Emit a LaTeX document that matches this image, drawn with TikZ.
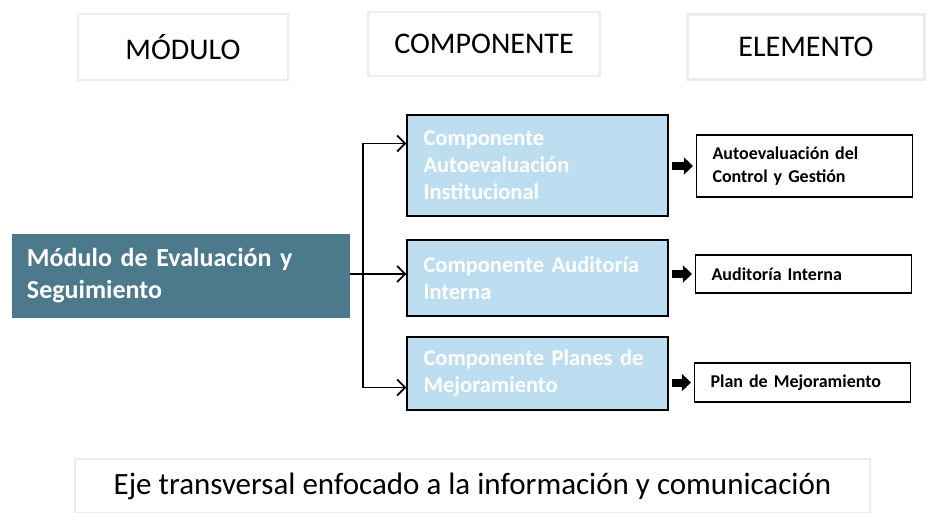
\documentclass[tikz,border=0pt]{standalone}
\usepackage{fontspec}
\setmainfont{Carlito}
\usepackage{xcolor}
\usepackage{tikz}
\usetikzlibrary{shapes,arrows.meta,positioning,calc}
\definecolor{modfill}{RGB}{76,122,140}
\definecolor{compfill}{RGB}{188,222,240}
\definecolor{faint}{RGB}{236,236,236}
\tikzstyle{header} = [draw=faint, line width=2.5pt, rectangle, font=\fontsize{30}{35}\selectfont]
\tikzstyle{module} = [fill=modfill, rectangle, text=white, align=left, inner sep=15pt,
  minimum width=338pt, minimum height=81pt, text width=308pt, font=\bfseries\fontsize{26}{32}\selectfont]
\tikzstyle{comp} = [draw, line width=1.2pt, fill=compfill, rectangle, text=white, align=left,
  minimum width=261pt, text width=228pt, font=\bfseries\fontsize{22.5}{27}\selectfont]
\tikzstyle{elem} = [draw, line width=1.2pt, rectangle, align=left, minimum width=216pt,
  text width=184pt, font=\bfseries\fontsize{18}{23}\selectfont]
\tikzstyle{blockarrow} = [line width=8pt, -{Triangle[length=9pt,width=17pt]}]

\begin{document}
\begin{tikzpicture}[x=1pt, y=1pt, >={Straight Barb[length=8pt,width=16pt]}]
	  \useasboundingbox (0,0) rectangle (928,512);
	  % column headers
	  \node [header, minimum width=210pt, minimum height=66pt] (hmod) at (183,465) {MÓDULO};
	  \node [header, minimum width=232pt, minimum height=64pt] (hcomp) at (484,468) {COMPONENTE};
	  \node [header, minimum width=237pt, minimum height=65pt] (helem) at (806,465) {ELEMENTO};
	
	  \node [module] (mod) at (181,236) {Módulo de Evaluación y\\Seguimiento};
	
	  \node [comp, minimum height=101pt] (c1) at (537.5,346.5) {Componente\\Autoevaluación\\Institucional};
	  \node [comp, minimum height=76pt] (c2) at (537.5,234) {Componente Auditoría\\Interna};
	  \node [comp, minimum height=73pt] (c3) at (537.5,138.5) {Componente Planes de\\Mejoramiento};
	
	  \node [elem, minimum height=62pt] (e1) at (804.5,346) {Autoevaluación del\\Control y Gestión};
	  \node [elem, minimum height=38pt] (e2) at (803.5,238) {Auditoría Interna};
	  \node [elem, minimum height=39pt] (e3) at (802.5,129.5) {Plan de Mejoramiento};
	
	  \node [header, minimum width=795pt, minimum height=54pt, font=\fontsize{31}{35}\selectfont] (eje) at (472.5,26) {Eje transversal enfocado a la información y comunicación};
	
	  % block arrows component -> element
	  \draw [blockarrow] ([xshift=3pt]c1.east |- e1.west) -- ([xshift=-3pt]e1.west);
	  \draw [blockarrow] ([xshift=3pt]c2.east |- e2.west) -- ([xshift=-3pt]e2.west);
	  \draw [blockarrow] ([xshift=3pt]c3.east |- e3.west) -- ([xshift=-3pt]e3.west);
	
	  \coordinate (fork) at ($(mod.east)+(13,2)$);
	  \draw [line width=1.8pt] ($(mod.east)+(0,2)$) -- (fork);
	  \draw [->, line width=1.8pt] (fork) -- (fork -| c2.west);
	  \draw [->, line width=1.8pt] (fork) |- ([yshift=22pt]c1.west);
	  \draw [->, line width=1.8pt] (fork) |- ([yshift=-14pt]c3.west);
	\end{tikzpicture}
\end{document}
